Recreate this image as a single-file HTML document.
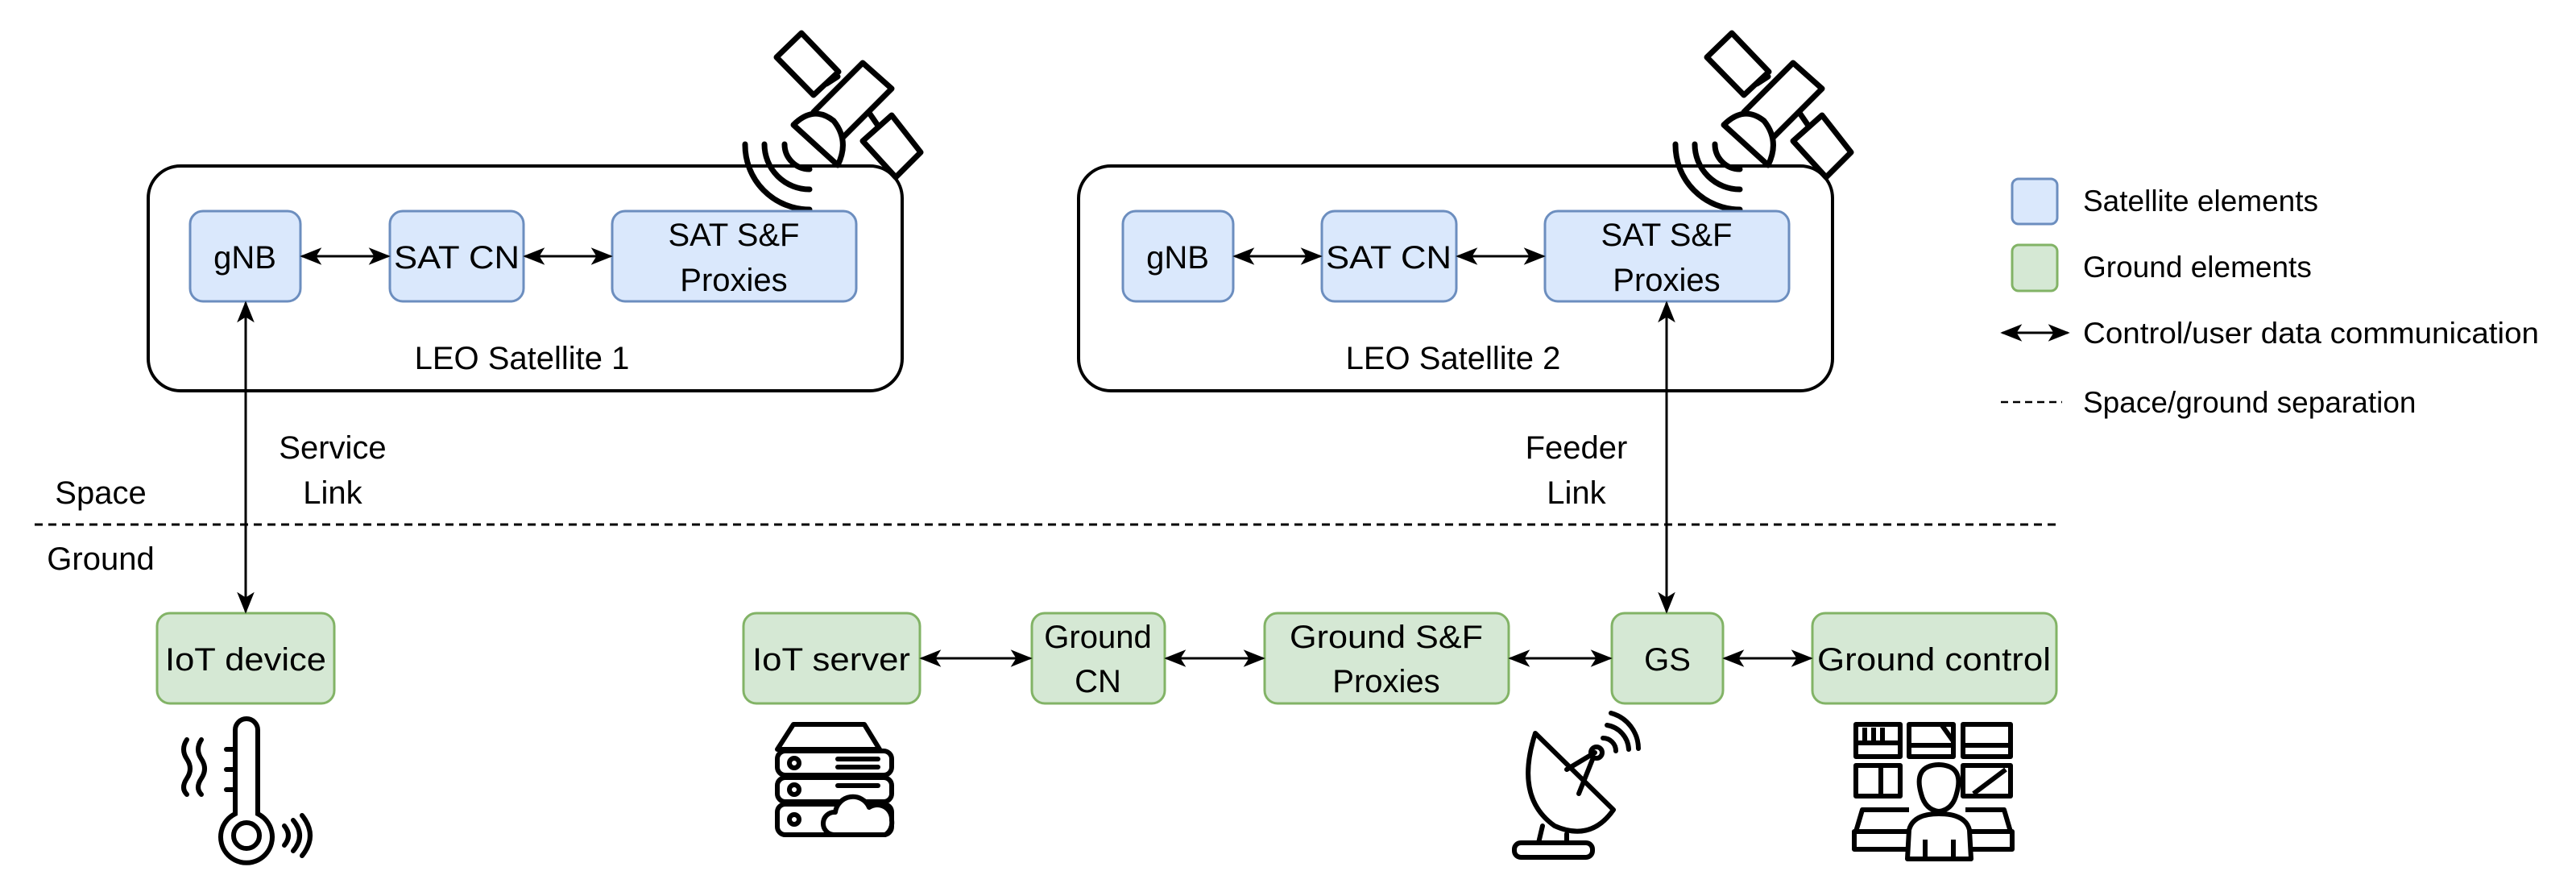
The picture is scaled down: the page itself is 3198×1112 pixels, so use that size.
<!DOCTYPE html>
<html><head><meta charset="utf-8"><style>
html,body{margin:0;padding:0;background:#fff;}
svg{display:block;}
text{font-family:"Liberation Sans",Arial,sans-serif;fill:#000;}
</style></head><body>
<svg width="3198" height="1112" viewBox="0 0 3198 1112" xmlns="http://www.w3.org/2000/svg">
<defs>
<marker id="a" viewBox="0 0 20 20" refX="18" refY="10" markerWidth="9" markerHeight="9" markerUnits="strokeWidth" orient="auto-start-reverse">
<path d="M0,2 L20,10 L0,18 L5,10 Z" fill="#000"/>
</marker>
<g id="sat" fill="none" stroke="#000" stroke-width="7" stroke-linejoin="round" stroke-linecap="round">
<polygon points="995,41 1041,89 1010,118 964,71" fill="#fff"/>
<line x1="1026" y1="104" x2="1040" y2="95"/>
<polygon points="1071,78 1107,110 1046,171 1010,139" fill="#fff"/>
<line x1="1079" y1="140" x2="1090" y2="156"/>
<polygon points="1107,143 1143,189 1112,220 1071,175" fill="#fff"/>
<path d="M985,155 Q1010,130 1035,150 Q1055,175 1040,205 Z" fill="#fff"/>
<path d="M1005,210 A31,31 0 0 1 974,179"/>
<path d="M1005,235 A56,56 0 0 1 949,179"/>
<path d="M1005,260 A80,80 0 0 1 925,179"/>
</g>
</defs>

<rect x="184" y="206" width="936" height="279" rx="40" fill="none" stroke="#000" stroke-width="4"/>
<rect x="1339" y="206" width="936" height="279" rx="40" fill="none" stroke="#000" stroke-width="4"/>
<use href="#sat"/>
<use href="#sat" transform="translate(1155,0)"/>

<g fill="#dae8fc" stroke="#6c8ebf" stroke-width="3">
<rect x="236" y="262" width="137" height="112" rx="16"/>
<rect x="484" y="262" width="166" height="112" rx="16"/>
<rect x="760" y="262" width="303" height="112" rx="16"/>
<rect x="1394" y="262" width="137" height="112" rx="16"/>
<rect x="1641" y="262" width="167" height="112" rx="16"/>
<rect x="1918" y="262" width="303" height="112" rx="16"/>
</g>
<g font-size="40" text-anchor="middle">
<text x="304" y="333">gNB</text>
<text x="567" y="333" textLength="156" lengthAdjust="spacingAndGlyphs">SAT CN</text>
<text x="911" y="305">SAT S&amp;F</text>
<text x="911" y="361">Proxies</text>
<text x="1462" y="333">gNB</text>
<text x="1724" y="333" textLength="156" lengthAdjust="spacingAndGlyphs">SAT CN</text>
<text x="2069" y="305">SAT S&amp;F</text>
<text x="2069" y="361">Proxies</text>
<text x="648" y="458">LEO Satellite 1</text>
<text x="1804" y="458">LEO Satellite 2</text>
<text x="413" y="569">Service</text>
<text x="413" y="625">Link</text>
<text x="1957" y="569">Feeder</text>
<text x="1957" y="625">Link</text>
<text x="125" y="625">Space</text>
<text x="125" y="707">Ground</text>
</g>

<line x1="43" y1="651" x2="2552" y2="651" stroke="#000" stroke-width="3" stroke-dasharray="10,7"/>

<g fill="#d5e8d4" stroke="#82b366" stroke-width="3">
<rect x="195" y="761" width="220" height="112" rx="16"/>
<rect x="923" y="761" width="219" height="112" rx="16"/>
<rect x="1281" y="761" width="165" height="112" rx="16"/>
<rect x="1570" y="761" width="303" height="112" rx="16"/>
<rect x="2001" y="761" width="138" height="112" rx="16"/>
<rect x="2250" y="761" width="303" height="112" rx="16"/>
</g>
<g font-size="40" text-anchor="middle">
<text x="305" y="832" textLength="200" lengthAdjust="spacingAndGlyphs">IoT device</text>
<text x="1032" y="832" textLength="196" lengthAdjust="spacingAndGlyphs">IoT server</text>
<text x="1363" y="804">Ground</text>
<text x="1363" y="859">CN</text>
<text x="1721" y="804" textLength="240" lengthAdjust="spacingAndGlyphs">Ground S&amp;F</text>
<text x="1721" y="859">Proxies</text>
<text x="2070" y="832">GS</text>
<text x="2401" y="832" textLength="290" lengthAdjust="spacingAndGlyphs">Ground control</text>
</g>

<g stroke="#000" stroke-width="3" fill="none" marker-start="url(#a)" marker-end="url(#a)">
<line x1="375" y1="318" x2="482" y2="318"/>
<line x1="652" y1="318" x2="758" y2="318"/>
<line x1="1533" y1="318" x2="1639" y2="318"/>
<line x1="1810" y1="318" x2="1916" y2="318"/>
<line x1="305" y1="376" x2="305" y2="759"/>
<line x1="2069" y1="376" x2="2069" y2="759"/>
<line x1="1144" y1="817" x2="1279" y2="817"/>
<line x1="1448" y1="817" x2="1568" y2="817"/>
<line x1="1875" y1="817" x2="1999" y2="817"/>
<line x1="2141" y1="817" x2="2248" y2="817"/>
<line x1="2486" y1="413" x2="2567" y2="413"/>
</g>

<rect x="2498" y="222" width="56" height="56" rx="8" fill="#dae8fc" stroke="#6c8ebf" stroke-width="3"/>
<rect x="2498" y="304" width="56" height="57" rx="8" fill="#d5e8d4" stroke="#82b366" stroke-width="3"/>
<line x1="2484" y1="499" x2="2560" y2="499" stroke="#000" stroke-width="2.5" stroke-dasharray="9,6"/>
<g font-size="37">
<text x="2586" y="262">Satellite elements</text>
<text x="2586" y="344">Ground elements</text>
<text x="2586" y="426" textLength="566" lengthAdjust="spacingAndGlyphs">Control/user data communication</text>
<text x="2586" y="512">Space/ground separation</text>
</g>

<g fill="none" stroke="#000" stroke-width="6" stroke-linecap="round">
<path d="M292,1010 L292,906 A14,14 0 0 1 320,906 L320,1010 A32,32 0 1 1 292,1010 Z"/>
<circle cx="306" cy="1037" r="16"/>
<path d="M232,918 q-8,12 0,24 q8,12 0,24 q-8,12 0,20"/>
<path d="M250,918 q-8,12 0,24 q8,12 0,24 q-8,12 0,20"/>
<line x1="281" y1="930" x2="292" y2="930"/>
<line x1="281" y1="955" x2="292" y2="955"/>
<line x1="281" y1="980" x2="292" y2="980"/>
<path d="M353,1025 q10,12 0,24"/>
<path d="M364,1018 q16,19 0,38"/>
<path d="M375,1012 q20,25 0,50"/>
</g>

<g fill="none" stroke="#000" stroke-width="6" stroke-linejoin="round" stroke-linecap="round">
<path d="M965,930 L985,899 L1073,899 L1092,930 Z"/>
<rect x="965" y="932" width="142" height="30" rx="10"/>
<rect x="965" y="965" width="142" height="30" rx="10"/>
<rect x="965" y="998" width="142" height="38" rx="10"/>
<circle cx="986" cy="947" r="6"/><circle cx="986" cy="980" r="6"/><circle cx="986" cy="1017" r="6"/>
<line x1="1040" y1="942" x2="1090" y2="942"/><line x1="1040" y1="952" x2="1090" y2="952"/>
<line x1="1040" y1="975" x2="1090" y2="975"/>
<path d="M1035,1036 a14,14 0 0 1 2,-28 a22,22 0 0 1 42,-6 a18,18 0 0 1 28,16 a18,18 0 0 1 -8,18 Z" fill="#fff"/>
</g>

<g fill="none" stroke="#000" stroke-width="6" stroke-linejoin="round" stroke-linecap="round">
<path d="M1906,910 Q1880,990 1930,1025 Q1975,1045 2003,1005 Z"/>
<line x1="1945" y1="955" x2="1980" y2="934"/>
<line x1="1960" y1="985" x2="1978" y2="940"/>
<circle cx="1982" cy="934" r="7"/>
<path d="M1990,916 a16,16 0 0 1 16,16"/>
<path d="M1995,900 a32,32 0 0 1 27,30"/>
<path d="M2000,885 a46,46 0 0 1 34,44"/>
<line x1="1915" y1="1025" x2="1910" y2="1046"/>
<line x1="1945" y1="1035" x2="1945" y2="1046"/>
<rect x="1880" y="1046" width="97" height="18" rx="8"/>
</g>

<g fill="none" stroke="#000" stroke-width="6" stroke-linejoin="round">
<rect x="2304" y="899" width="55" height="40"/>
<rect x="2370" y="899" width="55" height="40"/>
<rect x="2437" y="899" width="59" height="40"/>
<line x1="2315" y1="903" x2="2315" y2="920"/><line x1="2326" y1="903" x2="2326" y2="920"/><line x1="2337" y1="903" x2="2337" y2="920"/><line x1="2304" y1="922" x2="2359" y2="922"/>
<line x1="2370" y1="925" x2="2425" y2="925"/><line x1="2410" y1="899" x2="2425" y2="920"/>
<line x1="2437" y1="925" x2="2496" y2="925"/>
<rect x="2304" y="950" width="55" height="38"/>
<line x1="2335" y1="950" x2="2335" y2="988"/>
<rect x="2437" y="950" width="59" height="38"/>
<line x1="2450" y1="985" x2="2490" y2="955"/>
<path d="M2385,985 q-10,-35 22,-36 q32,1 22,36 q-5,20 -22,22 q-17,-2 -22,-22 Z"/>
<path d="M2304,1032 L2312,1005 L2370,1005"/>
<path d="M2496,1032 L2488,1005 L2440,1005"/>
<rect x="2302" y="1032" width="196" height="22"/>
<path d="M2368,1066 L2370,1030 Q2375,1010 2407,1010 Q2440,1010 2445,1030 L2447,1066 Z" fill="#fff"/>
<line x1="2390" y1="1042" x2="2390" y2="1066"/><line x1="2425" y1="1042" x2="2425" y2="1066"/>
</g>
</svg>
</body></html>
